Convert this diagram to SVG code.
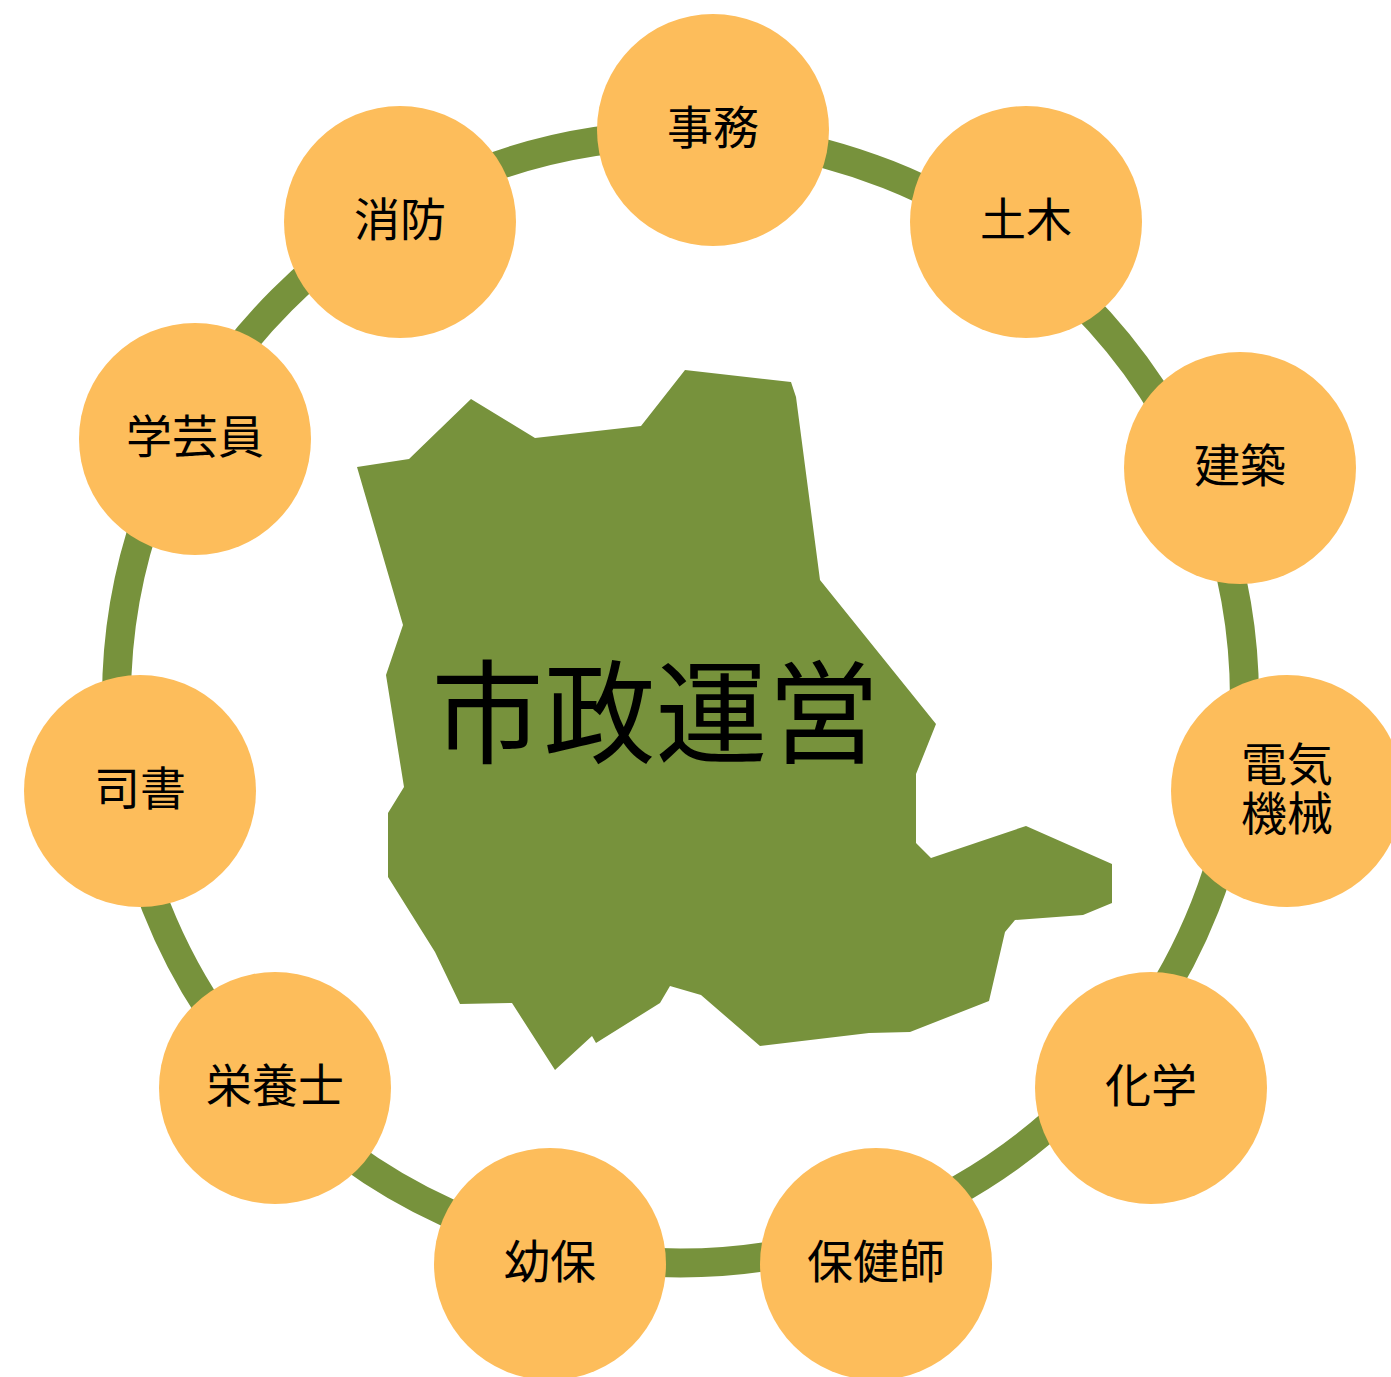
<svg xmlns="http://www.w3.org/2000/svg" width="1391" height="1377" viewBox="0 0 1391 1377">
<style>
.node circle{fill:#FDBD5B}
.lbl{font-family:"Noto Sans CJK JP","Noto Sans CJK SC",sans-serif;font-size:46px;fill:#000;text-anchor:middle}
.title{font-family:"Noto Sans CJK JP","Noto Sans CJK SC",sans-serif;font-size:112px;fill:#000;text-anchor:middle}
</style>
<rect width="1391" height="1377" fill="#fff"/>
<g id="connectors">
<circle cx="680.5" cy="699" r="564" fill="none" stroke="#77923C" stroke-width="29"/>
</g>
<g id="map">
<polygon fill="#77923C" points="357,467 409,459 471,399 535,438 641,426 685,370 791,382 796,397 820,580 936,724 916,774 916,843 931,858 1026,826 1112,864 1112,903 1083,915 1015,920 1005,932 989,1001 910,1032 869,1033 760,1046 701,995 670,986 660,1003 596,1043 592,1036 555,1070 512,1003 460,1004 435,952 388,877 388,813 404,787 386,675 403,625"/>
<text class="title" x="655.5" y="755">市政運営</text>
</g>
<g id="n-jimu" class="node"><circle cx="713" cy="130" r="116"/><text class="lbl" x="713" y="144">事務</text></g>
<g id="n-doboku" class="node"><circle cx="1026" cy="222" r="116"/><text class="lbl" x="1026" y="236">土木</text></g>
<g id="n-kenchiku" class="node"><circle cx="1240" cy="468" r="116"/><text class="lbl" x="1240" y="482">建築</text></g>
<g id="n-denki" class="node"><circle cx="1287" cy="791" r="116"/><text class="lbl" x="1287" y="781">電気</text><text class="lbl" x="1287" y="830">機械</text></g>
<g id="n-kagaku" class="node"><circle cx="1151" cy="1088" r="116"/><text class="lbl" x="1151" y="1102">化学</text></g>
<g id="n-hokenshi" class="node"><circle cx="876" cy="1264" r="116"/><text class="lbl" x="876" y="1278">保健師</text></g>
<g id="n-youho" class="node"><circle cx="550" cy="1264" r="116"/><text class="lbl" x="550" y="1278">幼保</text></g>
<g id="n-eiyoushi" class="node"><circle cx="275" cy="1088" r="116"/><text class="lbl" x="275" y="1102">栄養士</text></g>
<g id="n-shisho" class="node"><circle cx="140" cy="791" r="116"/><text class="lbl" x="140" y="805">司書</text></g>
<g id="n-gakugeiin" class="node"><circle cx="195" cy="439" r="116"/><text class="lbl" x="195" y="453">学芸員</text></g>
<g id="n-shoubou" class="node"><circle cx="400" cy="222" r="116"/><text class="lbl" x="400" y="236">消防</text></g>
</svg>
